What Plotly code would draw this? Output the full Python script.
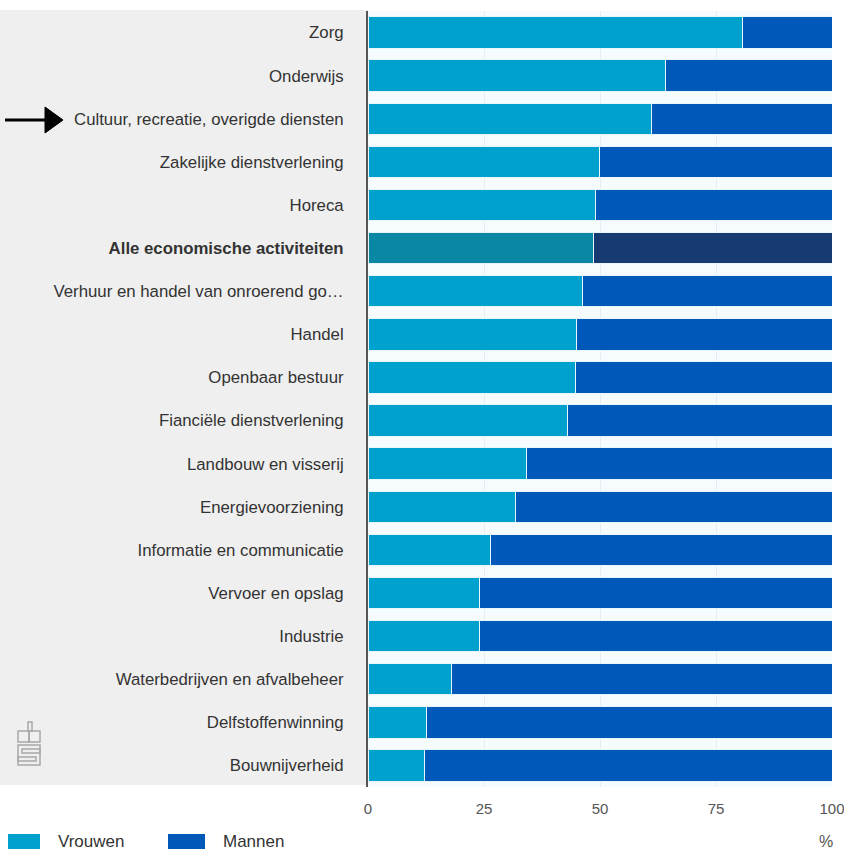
import plotly.graph_objects as go

categories = [
    "Zorg", "Onderwijs", "Cultuur, recreatie, overigde diensten",
    "Zakelijke dienstverlening", "Horeca", "Alle economische activiteiten",
    "Verhuur en handel van onroerend go…", "Handel", "Openbaar bestuur",
    "Fianciële dienstverlening", "Landbouw en visserij", "Energievoorziening",
    "Informatie en communicatie", "Vervoer en opslag", "Industrie",
    "Waterbedrijven en afvalbeheer", "Delfstoffenwinning", "Bouwnijverheid",
]
vrouwen = [80.8, 64.2, 61.2, 49.8, 49.1, 48.7, 46.3, 45.0, 44.8, 43.1,
           34.1, 31.7, 26.3, 24.1, 24.0, 18.0, 12.7, 12.1]
mannen = [round(100 - v, 1) for v in vrouwen]
x_ticks = [0, 25, 50, 75, 100]
highlight = "Alle economische activiteiten"

C_V, C_M = "#00a1cd", "#0058b8"
C_VH, C_MH = "#0b87a6", "#173a73"

tick_text = [f"<b>{c}</b>" if c == highlight else c for c in categories]

fig = go.Figure()
fig.add_trace(go.Bar(
    y=categories, x=vrouwen, orientation="h", name="Vrouwen",
    marker=dict(color=[C_VH if c == highlight else C_V for c in categories],
                line=dict(color="#e6f6fc", width=1)),
))
fig.add_trace(go.Bar(
    y=categories, x=mannen, orientation="h", name="Mannen",
    marker=dict(color=[C_MH if c == highlight else C_M for c in categories],
                line=dict(color="#e6f6fc", width=1)),
))

W, H = 844, 850
ML, MR, MT, MB = 368, 12, 11, 63
PW, PH = W - ML - MR, H - MT - MB


def px(x):
    return (x - ML) / PW


def py(y):
    return (H - MB - y) / PH


shapes = []
# grey label panel
shapes.append(dict(type="rect", xref="paper", yref="paper", x0=px(0), x1=0,
                   y0=py(785), y1=py(10), fillcolor="#efefef", line_width=0,
                   layer="below"))
# arrow
shapes.append(dict(type="line", xref="paper", yref="paper", x0=px(5), x1=px(48),
                   y0=py(120), y1=py(120), line=dict(color="black", width=3)))
shapes.append(dict(type="path", xref="paper", yref="paper",
                   path=f"M {px(45)} {py(107)} L {px(63)} {py(120)} L {px(45)} {py(133)} Z",
                   fillcolor="black", line=dict(color="black", width=1)))
# CBS logo (approximation)
lg = dict(color="#a8a8a8", width=1.5)
for (x0, y0, x1, y1) in [(28, 722, 32, 731), (18, 731, 29, 742), (29, 731, 40, 742),
                         (18, 745, 40, 765), (22, 749, 40, 753), (18, 757, 36, 761)]:
    shapes.append(dict(type="rect", xref="paper", yref="paper", x0=px(x0), x1=px(x1),
                       y0=py(y1), y1=py(y0), line=lg, fillcolor="rgba(0,0,0,0)"))
# legend swatches
shapes.append(dict(type="rect", xref="paper", yref="paper", x0=px(8), x1=px(40),
                   y0=py(849), y1=py(834), fillcolor=C_V, line_width=0))
shapes.append(dict(type="rect", xref="paper", yref="paper", x0=px(168), x1=px(205),
                   y0=py(849), y1=py(834), fillcolor=C_M, line_width=0))

annotations = [
    dict(text="Vrouwen", xref="paper", yref="paper", x=px(56), y=py(841),
         xanchor="left", yanchor="middle", showarrow=False,
         font=dict(size=17, color="#333333")),
    dict(text="Mannen", xref="paper", yref="paper", x=px(221), y=py(841),
         xanchor="left", yanchor="middle", showarrow=False,
         font=dict(size=17, color="#333333")),
    dict(text="%", xref="paper", yref="paper", x=px(826), y=py(841),
         xanchor="center", yanchor="middle", showarrow=False,
         font=dict(size=16, color="#555555")),
]

fig.update_layout(
    width=W, height=H, barmode="stack", bargap=0.27,
    margin=dict(l=ML, r=MR, t=MT, b=MB, pad=0, autoexpand=False),
    paper_bgcolor="white", plot_bgcolor="#f6fbfe",
    showlegend=False,
    font=dict(family="Liberation Sans, Arial, sans-serif", size=16, color="#333333"),
    shapes=shapes, annotations=annotations,
    xaxis=dict(range=[0, 100], tickvals=x_ticks, ticktext=[str(t) for t in x_ticks],
               showgrid=True, gridcolor="#e3edf2", gridwidth=1, zeroline=False,
               automargin=False, ticklabeloverflow="allow",
               ticks="outside", ticklen=8, tickcolor="rgba(0,0,0,0)",
               tickfont=dict(size=15, color="#555555"), fixedrange=True),
    yaxis=dict(autorange="reversed", tickvals=categories, ticktext=tick_text,
               automargin=False,
               showline=True, linecolor="#555555", linewidth=2,
               ticks="outside", ticklen=19, tickcolor="rgba(0,0,0,0)",
               tickfont=dict(size=16.8, color="#333333"), showgrid=False),
)

fig.write_html("out.html")
